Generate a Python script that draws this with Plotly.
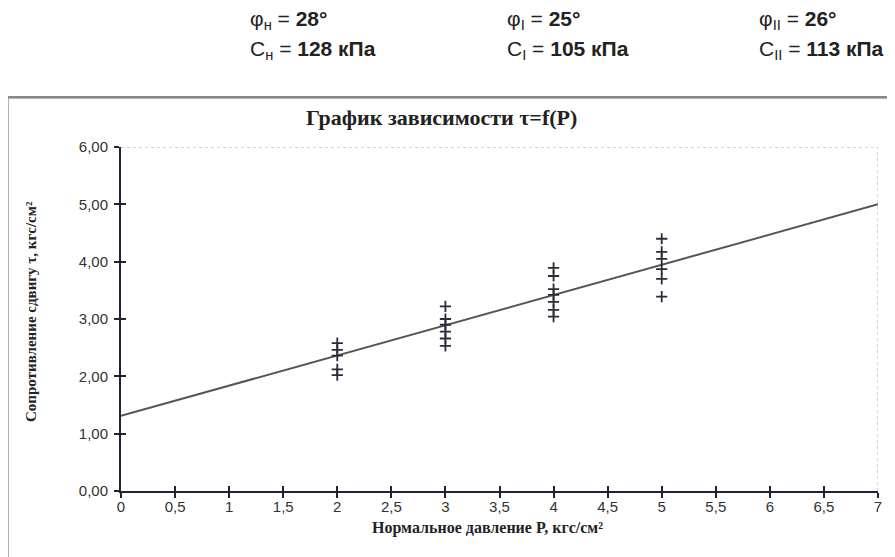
import plotly.graph_objects as go

# ---------------- data ----------------
p_2 = [2, 2, 2, 2, 2]
tau_2 = [2.58, 2.46, 2.36, 2.12, 2.02]
p_3 = [3, 3, 3, 3, 3, 3]
tau_3 = [3.22, 3.00, 2.90, 2.78, 2.66, 2.53]
p_4 = [4, 4, 4, 4, 4, 4, 4]
tau_4 = [3.89, 3.75, 3.52, 3.42, 3.30, 3.16, 3.04]
p_5 = [5, 5, 5, 5, 5, 5]
tau_5 = [4.40, 4.17, 4.05, 3.87, 3.70, 3.39]

line_p = [0, 7]
line_tau = [1.31, 5.00]

x_tickvals = [0, 0.5, 1, 1.5, 2, 2.5, 3, 3.5, 4, 4.5, 5, 5.5, 6, 6.5, 7]
x_ticktext = ["0", "0,5", "1", "1,5", "2", "2,5", "3", "3,5", "4", "4,5",
              "5", "5,5", "6", "6,5", "7"]
y_tickvals = [0, 1, 2, 3, 4, 5, 6]
y_ticktext = ["0,00", "1,00", "2,00", "3,00", "4,00", "5,00", "6,00"]

header_phi = ["φ<sub>н</sub> = <b>28°</b>", "φ<sub>I</sub> = <b>25°</b>", "φ<sub>II</sub> = <b>26°</b>"]
header_c = ["C<sub>н</sub> = <b>128 кПа</b>", "C<sub>I</sub> = <b>105 кПа</b>", "C<sub>II</sub> = <b>113 кПа</b>"]

title_text = "<b>График зависимости τ=f(P)</b>"
x_title = "<b>Нормальное давление P, кгс/см²</b>"
y_title = "<b>Сопротивление сдвигу τ, кгс/см²</b>"

# ---------------- layout geometry ----------------
OFF = 8                      # page body margin
W, H = 895 - OFF, 557 - OFF
# reference-pixel plot box
PL, PR, PT, PB = 121, 878, 147, 491
L, T = PL - OFF, PT - OFF
R, B = W - (PR - OFF), H - (PB - OFF)
PW, PH = W - L - R, H - T - B


def px(x):
    return (x - OFF - L) / PW


def py(y):
    return 1 - (y - OFF - T) / PH


fig = go.Figure()

fig.add_trace(go.Scatter(x=line_p, y=line_tau, mode="lines",
                         line=dict(color="#555555", width=2),
                         showlegend=False, hoverinfo="skip"))

all_p = p_2 + p_3 + p_4 + p_5
all_tau = tau_2 + tau_3 + tau_4 + tau_5
fig.add_trace(go.Scatter(x=all_p, y=all_tau, mode="markers",
                         marker=dict(symbol="cross-thin", size=8,
                                     line=dict(color="#2b2b3a", width=1.8)),
                         showlegend=False))

serif = "Liberation Serif, Times New Roman, serif"
sans = "Liberation Sans, Arial, sans-serif"

axis_common = dict(showgrid=False, zeroline=False, showline=True,
                   linecolor="#222233", linewidth=2, ticks="outside",
                   ticklen=5, tickwidth=1.5, tickcolor="#222233",
                   tickfont=dict(family=sans, size=15, color="#333333"))

fig.update_layout(
    width=W, height=H,
    margin=dict(l=L, r=R, t=T, b=B),
    plot_bgcolor="white", paper_bgcolor="white",
    xaxis=dict(range=[0, 7], tickvals=x_tickvals, ticktext=x_ticktext,
               ticklabelstandoff=-4, **axis_common),
    yaxis=dict(range=[0, 6], tickvals=y_tickvals, ticktext=y_ticktext,
               ticklabelstandoff=3, **axis_common),
    xaxis2=dict(overlaying="x", range=[0, 7], tickvals=x_tickvals, showticklabels=False,
                showgrid=False, zeroline=False, ticks="inside", ticklen=5, tickwidth=1.5,
                tickcolor="#222233", side="bottom", anchor="y"),
    yaxis2=dict(overlaying="y", range=[0, 6], tickvals=y_tickvals, showticklabels=False,
                showgrid=False, zeroline=False, ticks="inside", ticklen=5, tickwidth=1.5,
                tickcolor="#222233", side="left", anchor="x"),
)

# dummy trace to activate the inside-tick axes
fig.add_trace(go.Scatter(x=[None], y=[None], xaxis="x2", yaxis="y2",
                         showlegend=False, hoverinfo="skip"))

# dotted top & right plot border
fig.add_shape(type="line", xref="x", yref="y", x0=0, x1=7, y0=6, y1=6,
              line=dict(color="#aaaaaa", width=1, dash="dot"))
fig.add_shape(type="line", xref="x", yref="y", x0=7, x1=7, y0=0, y1=6,
              line=dict(color="#aaaaaa", width=1, dash="dot"))

# outer frame
fig.add_shape(type="rect", xref="paper", yref="paper",
              x0=px(8), x1=px(905), y0=py(570), y1=py(98),
              line=dict(color="#999999", width=1.5), layer="below")
fig.add_shape(type="line", xref="paper", yref="paper",
              x0=px(0), x1=px(900), y0=py(97), y1=py(97),
              line=dict(color="#888888", width=2), layer="below")

# axis titles
fig.add_annotation(text=x_title, xref="paper", yref="paper",
                   x=px(487), y=py(528), showarrow=False,
                   font=dict(family=serif, size=16, color="#222222"),
                   xanchor="center", yanchor="middle")
fig.add_annotation(text=y_title, xref="paper", yref="paper",
                   x=px(31), y=py(312), showarrow=False, textangle=-90,
                   font=dict(family=serif, size=15, color="#222222"),
                   xanchor="center", yanchor="middle")

# title
fig.add_annotation(text=title_text, xref="paper", yref="paper",
                   x=px(441), y=py(117), showarrow=False,
                   font=dict(family=serif, size=22, color="#222222"),
                   xanchor="center", yanchor="middle")

# header
cols = [248, 505, 757]
for i, cx in enumerate(cols):
    fig.add_annotation(text=header_phi[i], xref="paper", yref="paper",
                       x=px(cx), y=py(20), showarrow=False, xanchor="left", yanchor="middle",
                       font=dict(family=sans, size=21, color="#222222"))
    fig.add_annotation(text=header_c[i], xref="paper", yref="paper",
                       x=px(cx), y=py(50), showarrow=False, xanchor="left", yanchor="middle",
                       font=dict(family=sans, size=21, color="#222222"))

fig.write_html("out.html")
